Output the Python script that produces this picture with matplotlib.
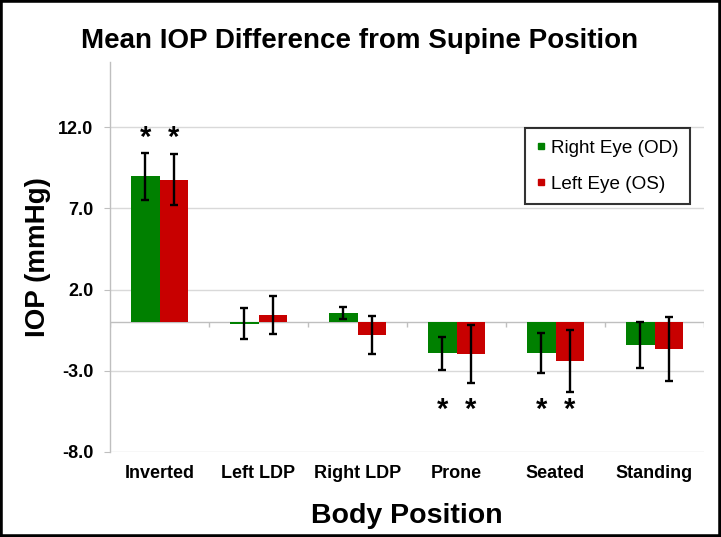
import matplotlib
matplotlib.use("Agg")
import matplotlib.pyplot as plt
import numpy as np
from matplotlib.lines import Line2D
from matplotlib.patches import Rectangle

plt.rcParams['font.family'] = ['Liberation Sans', 'DejaVu Sans']

categories = ["Inverted", "Left LDP", "Right LDP", "Prone", "Seated", "Standing"]
right_eye = [8.98, -0.10, 0.56, -1.93, -1.93, -1.41]
right_err = [1.45, 0.97, 0.38, 1.00, 1.23, 1.42]
left_eye = [8.74, 0.44, -0.78, -1.97, -2.38, -1.66]
left_err = [1.57, 1.19, 1.17, 1.76, 1.90, 1.99]
sig_right = [True, False, False, True, True, False]
sig_left = [True, False, False, True, True, False]
star_level_pos = 11.35
star_level_neg = -5.4
yticks = [-8.0, -3.0, 2.0, 7.0, 12.0]
ylim = (-8.0, 16.0)

green = "#008000"
red = "#c80000"

fig = plt.figure(figsize=(7.21, 5.37), dpi=100)
ax = fig.add_axes([110/721, 1-452/537, 594/721, 390/537])

x = np.arange(len(categories))
w = 0.286
ekw = dict(elinewidth=1.7, capthick=1.7, ecolor="black")
ax.bar(x - w/2, right_eye, w, color=green, label="Right Eye (OD)",
       yerr=right_err, capsize=3, error_kw=ekw, zorder=3)
ax.bar(x + w/2, left_eye, w, color=red, label="Left Eye (OS)",
       yerr=left_err, capsize=3, error_kw=ekw, zorder=3)

for i in range(len(categories)):
    for off, sig, val in ((-w/2, sig_right[i], right_eye[i]), (w/2, sig_left[i], left_eye[i])):
        if sig:
            yy = star_level_pos if val > 0 else star_level_neg
            ax.text(x[i] + off, yy, "*", ha="center", va="center",
                    fontsize=21, fontweight="bold", zorder=5)

ax.set_xlim(-0.5, len(categories) - 0.5)
ax.set_ylim(*ylim)
ax.set_yticks(yticks)
ax.set_yticklabels([f"{t:.1f}" for t in yticks], fontsize=13, fontweight="bold")
ax.set_xticks(x)
ax.set_xticklabels(categories, fontsize=13, fontweight="bold")
ax.tick_params(axis="x", length=0, pad=9)
ax.tick_params(axis="y", length=4, color="#bfbfbf", pad=8)

ax.grid(axis="y", color="#d9d9d9", linewidth=1.0, zorder=0)
for s in ("top", "right", "bottom"):
    ax.spines[s].set_visible(False)
ax.spines["left"].set_color("#bfbfbf")
ax.spines["left"].set_linewidth(1.0)

# zero axis line with category tick marks
ax.axhline(0, color="#bfbfbf", linewidth=1.0, zorder=2)
ax.vlines(np.arange(len(categories) + 1) - 0.5, -0.3, 0, color="#bfbfbf",
          linewidth=1.0, zorder=2)

ax.set_ylabel("IOP (mmHg)", fontsize=20, fontweight="bold")
ax.yaxis.set_label_coords(-0.099, 0.5)

fig.text(0.4986, 1-48.5/537, "Mean IOP Difference from Supine Position",
         ha="center", va="baseline", fontsize=20, fontweight="bold")
fig.text((110+297)/721, 1-522.7/537, "Body Position",
         ha="center", va="baseline", fontsize=20.5, fontweight="bold")

handles = [Line2D([], [], marker="s", linestyle="none", markersize=4.5,
                  color=green, label="Right Eye (OD)"),
           Line2D([], [], marker="s", linestyle="none", markersize=4.5,
                  color=red, label="Left Eye (OS)")]
leg = ax.legend(handles=handles, loc="upper right", bbox_to_anchor=(0.9764, 0.830),
                fontsize=13.6, frameon=True, fancybox=False, edgecolor="black",
                handlelength=0.5, handletextpad=0.3, labelspacing=1.0,
                borderpad=0.6, borderaxespad=0)
leg.get_frame().set_linewidth(1.5)

fig.patches.append(Rectangle((0, 0), 1, 1, transform=fig.transFigure,
                             fill=False, edgecolor="black", linewidth=4))

fig.savefig("out.png", dpi=100)
